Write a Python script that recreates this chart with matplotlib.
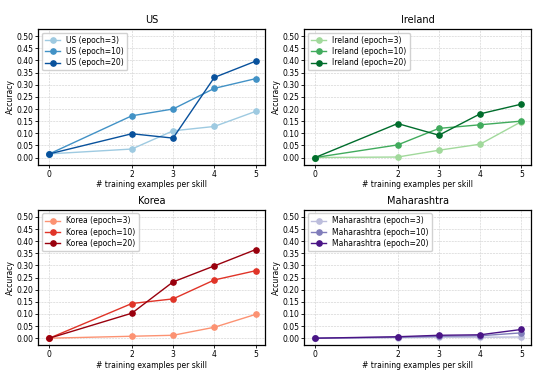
import matplotlib
matplotlib.use('Agg')
import matplotlib.pyplot as plt
import numpy as np

x_vals=[0,2,3,4,5]
epochs=[3,10,20]

regions=['US','Ireland','Korea','Maharashtra']
us=[[0.015,0.035,0.110,0.128,0.190],
    [0.015,0.172,0.200,0.285,0.325],
    [0.015,0.098,0.080,0.330,0.397]]
ireland=[[0.0,0.002,0.030,0.055,0.148],
         [0.0,0.052,0.120,0.135,0.150],
         [0.0,0.140,0.092,0.180,0.220]]
korea=[[0.0,0.008,0.012,0.045,0.098],
       [0.0,0.143,0.162,0.240,0.278],
       [0.0,0.103,0.232,0.298,0.365]]
maharashtra=[[0.0,0.002,0.004,0.004,0.005],
             [0.0,0.004,0.008,0.010,0.022],
             [0.0,0.006,0.012,0.014,0.036]]
data=[us,ireland,korea,maharashtra]
colors=[['#9ecae1','#4292c6','#08519c'],
        ['#a1d99b','#41ab5d','#006d2c'],
        ['#fc9272','#e03428','#99000d'],
        ['#bcbddc','#807dba','#4a1486']]

fig,axes=plt.subplots(2,2,figsize=(5.46,3.86),dpi=100)
plt.subplots_adjust(left=0.07,right=0.973,top=0.925,bottom=0.105,wspace=0.17,hspace=0.33)

for ax,name,series,cols in zip(axes.flat,regions,data,colors):
    for ys,e,c in zip(series,epochs,cols):
        ax.plot(x_vals,ys,marker='o',markersize=3.8,linewidth=1,color=c,label=f'{name} (epoch={e})')
    ax.set_title(name,fontsize=7,pad=4)
    ax.set_xticks(x_vals)
    ax.set_yticks(np.arange(0,0.51,0.05))
    ax.set_ylim(-0.03,0.53)
    ax.set_xlim(-0.27,5.24)
    ax.tick_params(labelsize=5.5,length=2,width=0.6,pad=1.5)
    ax.set_xlabel('# training examples per skill',fontsize=5.5,labelpad=1)
    ax.set_ylabel('Accuracy',fontsize=5.5,labelpad=1)
    ax.grid(True,linestyle='--',linewidth=0.4,color='#cccccc')
    for s in ax.spines.values():
        s.set_linewidth(0.9)
    ax.legend(loc='upper left',fontsize=5.5,handlelength=2,borderpad=0.4,labelspacing=0.3,framealpha=0.9)

plt.savefig('out.png',dpi=100)
